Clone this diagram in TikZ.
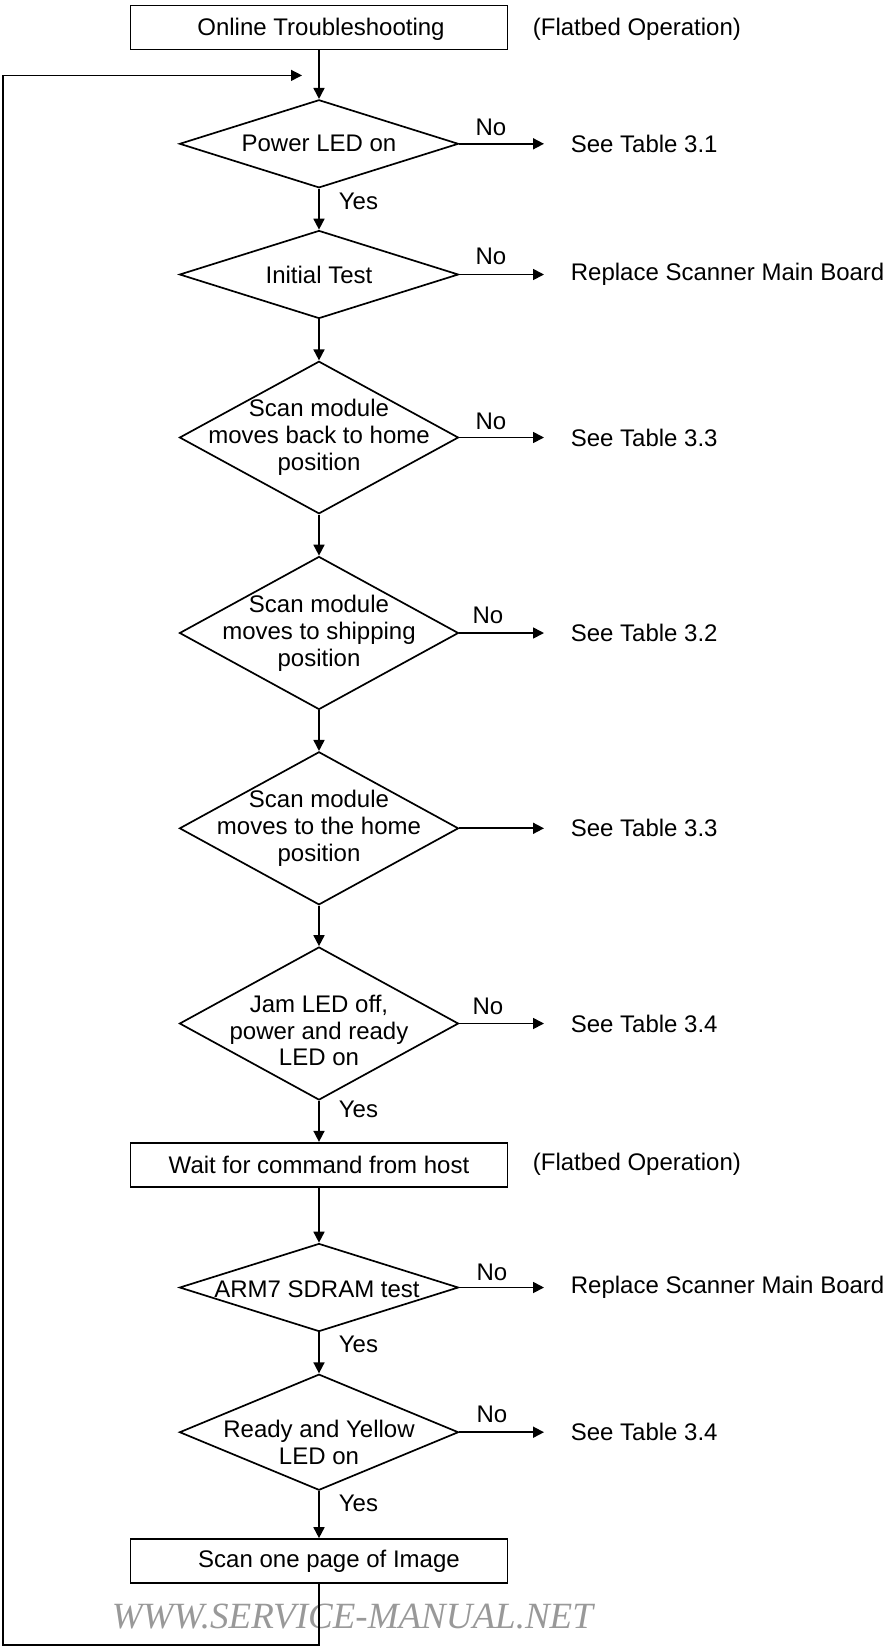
\documentclass[tikz,border=0pt]{standalone}
\usepackage{fontspec}
\setmainfont{Liberation Sans}
\newfontfamily\wmfont{Liberation Serif}
\usetikzlibrary{shapes.geometric,arrows.meta}
\begin{document}
\begin{tikzpicture}[x=1pt,y=-1pt,line width=1.7pt,
  every node/.style={font=\fontsize{24}{26.8}\selectfont},
  procbox/.style={draw,rectangle,minimum width=377pt,minimum height=44pt,inner sep=0pt},
  decbox/.style={draw,diamond,minimum width=279pt,minimum height=#1,inner sep=0pt},
  dtext/.style={align=center,inner sep=0pt},
  rtext/.style={anchor=west,inner sep=0pt},
  nolbl/.style={inner sep=0pt},
  yeslbl/.style={anchor=west,inner sep=0pt},
  arr/.style={-{Triangle[length=11pt,width=11pt]}},
  sidearr/.style={arr,shorten >=26pt},
  wmark/.style={font=\wmfont\itshape\fontsize{37}{40}\selectfont,text=black!40,anchor=base west,inner sep=0pt}]
\useasboundingbox (0,0) rectangle (885,1647);

% watermark
\node[wmark] (wm) at (111,1628) {WWW.SERVICE-MANUAL.NET};

% top box
\node[procbox] (b1) at (319,27.5) {};
\node[dtext] (t0) at (321,29.5) {Online Troubleshooting};
\node[rtext] (f1) at (532,29) {(Flatbed Operation)};
\coordinate (lp) at (302,75.4);
\coordinate (lc) at (3,1645);

% decisions
\node[decbox=88pt] (d1) at (319,143.8) {};
\node[dtext] (t1) at (d1) {Power LED on};
\node[rtext] (r1) at (570,143.8) {See Table 3.1};
\node[nolbl] (n1) at (491,127.5) {No};
\node[yeslbl] (y1) at (338,201.7) {Yes};

\node[decbox=88pt] (d2) at (319,274.5) {};
\node[dtext] (t2) at (d2) {Initial Test};
\node[rtext] (r2) at (570,274.5) {Replace Scanner Main Board};
\node[nolbl] (n2) at (491,256.5) {No};

\node[decbox=152.5pt] (d3) at (319,437.5) {};
\node[dtext] (t3) at (d3) {Scan module\\moves back to home\\position};
\node[rtext] (r3) at (570,437.5) {See Table 3.3};
\node[nolbl] (n3) at (491,421) {No};

\node[decbox=153pt] (d4) at (319,633) {};
\node[dtext] (t4) at (d4) {Scan module\\moves to shipping\\position};
\node[rtext] (r4) at (570,633) {See Table 3.2};
\node[nolbl] (n4) at (488,615) {No};

\node[decbox=153pt] (d5) at (319,828.3) {};
\node[dtext] (t5) at (d5) {Scan module\\moves to the home\\position};
\node[rtext] (r5) at (570,828.3) {See Table 3.3};

\node[decbox=153pt] (d6) at (319,1023.5) {};
\node[dtext,yshift=-7pt] (t6) at (d6) {Jam LED off,\\power and ready\\LED on};
\node[rtext] (r6) at (570,1023.5) {See Table 3.4};
\node[nolbl] (n6) at (488,1006) {No};
\node[yeslbl] (y6) at (338,1109) {Yes};

\node[procbox] (b2) at (319,1164.7) {Wait for command from host};
\node[rtext] (f2) at (532,1164.7) {(Flatbed Operation)};

\node[decbox=88pt] (d7) at (319,1287.5) {};
\node[dtext] (t7) at (317,1289) {ARM7 SDRAM test};
\node[rtext] (r7) at (570,1287.5) {Replace Scanner Main Board};
\node[nolbl] (n7) at (492,1272.5) {No};
\node[yeslbl] (y7) at (338,1344.5) {Yes};

\node[decbox=116pt] (d8) at (319,1432.2) {};
\node[dtext,yshift=-10pt] (t8) at (d8) {Ready and Yellow\\LED on};
\node[rtext] (r8) at (570,1432.2) {See Table 3.4};
\node[nolbl] (n8) at (492,1414.5) {No};
\node[yeslbl] (y8) at (338,1503.4) {Yes};

\node[procbox] (b3) at (319,1561) {};
\node[dtext] (t9) at (329,1561) {Scan one page of Image};

% main flow
\draw[arr] (b1.south) -- (d1.north);
\draw[arr] (d1.south) -- (d2.north);
\draw[arr] (d2.south) -- (d3.north);
\draw[arr] (d3.south) -- (d4.north);
\draw[arr] (d4.south) -- (d5.north);
\draw[arr] (d5.south) -- (d6.north);
\draw[arr] (d6.south) -- (b2.north);
\draw[arr] (b2.south) -- (d7.north);
\draw[arr] (d7.south) -- (d8.north);
\draw[arr] (d8.south) -- (b3.north);

% side exits
\draw[sidearr] (d1.east) -- (r1.west);
\draw[sidearr] (d2.east) -- (r2.west);
\draw[sidearr] (d3.east) -- (r3.west);
\draw[sidearr] (d4.east) -- (r4.west);
\draw[sidearr] (d5.east) -- (r5.west);
\draw[sidearr] (d6.east) -- (r6.west);
\draw[sidearr] (d7.east) -- (r7.west);
\draw[sidearr] (d8.east) -- (r8.west);

% loop back
\draw[arr,line width=1.3pt] (b3.south) |- (lc) |- (lp);
\end{tikzpicture}
\end{document}
